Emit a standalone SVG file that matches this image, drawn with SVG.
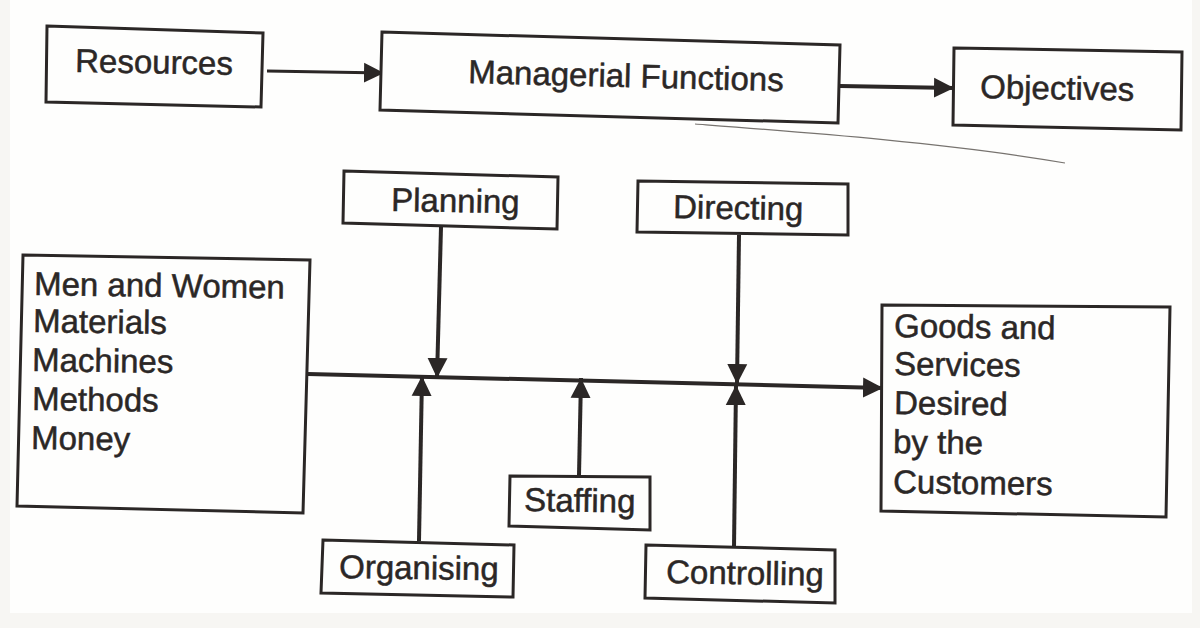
<svg xmlns="http://www.w3.org/2000/svg" width="1200" height="628" viewBox="0 0 1200 628">
<style>
.box{fill:#fefefd;stroke:#2b2726;stroke-width:3}
.lbl{font-family:"Liberation Sans",Arial,sans-serif;font-size:33px;fill:#2b2726;stroke:#2b2726;stroke-width:.5}
.con{fill:none;stroke:#2b2726;stroke-width:4}
.thin{stroke-width:3}
</style>
<defs>
<marker id="ah" markerUnits="userSpaceOnUse" markerWidth="22" markerHeight="22" refX="20" refY="11" orient="auto"><path d="M0 1L20 11L0 21Z" fill="#2b2726"/></marker>
</defs>
<rect width="1200" height="628" fill="#f7f6f3"/>
<rect x="10" y="0" width="1182" height="613" fill="#fefefd"/>
<path d="M695 124C800 132 950 143 1065 163" fill="none" stroke="#77736f" stroke-width="1.2"/>
<g id="connectors">
<path class="con thin" d="M267 71L384 73" marker-end="url(#ah)"/>
<path class="con" d="M840 86L954 88" marker-end="url(#ah)"/>
<path class="con" d="M308 374L883 388" marker-end="url(#ah)"/>
<path class="con" d="M441 227L437 378" marker-end="url(#ah)"/>
<path class="con" d="M739 235L737 384" marker-end="url(#ah)"/>
<path class="con" d="M419 541L422 376" marker-end="url(#ah)"/>
<path class="con" d="M579 475L581 378" marker-end="url(#ah)"/>
<path class="con" d="M734 547L736 385" marker-end="url(#ah)"/>
</g>
<g id="resources"><path class="box" d="M47 26L263 33L261 107L46 102Z"/><text class="lbl" transform="translate(75 72) rotate(1)">Resources</text></g>
<g id="managerial-functions"><path class="box" d="M382 32L840 45L838 123L380 110Z"/><text class="lbl" transform="translate(468 83) rotate(1.5)">Managerial Functions</text></g>
<g id="objectives"><path class="box" d="M954 48L1182 52L1181 130L953 125Z"/><text class="lbl" transform="translate(980 98) rotate(1)">Objectives</text></g>
<g id="planning"><path class="box" d="M344 171L558 177L557 229L343 223Z"/><text class="lbl" transform="translate(391 211) rotate(1)">Planning</text></g>
<g id="directing"><path class="box" d="M638 181L848 184L848 235L637 232Z"/><text class="lbl" transform="translate(673 218) rotate(1)">Directing</text></g>
<g id="inputs"><path class="box" d="M23 255L310 260L303 513L17 506Z"/>
<text class="lbl" transform="translate(34 295) rotate(.8)">Men and Women</text>
<text class="lbl" transform="translate(33 332) rotate(.8)">Materials</text>
<text class="lbl" transform="translate(32 371) rotate(.8)">Machines</text>
<text class="lbl" transform="translate(32 410) rotate(.8)">Methods</text>
<text class="lbl" transform="translate(31 449) rotate(.8)">Money</text></g>
<g id="goods-and-services"><path class="box" d="M882 305L1170 307L1166 517L881 511Z"/>
<text class="lbl" transform="translate(894 337) rotate(.8)">Goods and</text>
<text class="lbl" transform="translate(894 375) rotate(.8)">Services</text>
<text class="lbl" transform="translate(894 414) rotate(.8)">Desired</text>
<text class="lbl" transform="translate(893 453) rotate(.8)">by the</text>
<text class="lbl" transform="translate(893 493) rotate(.8)">Customers</text></g>
<g id="organising"><path class="box" d="M323 540L514 545L513 597L321 593Z"/><text class="lbl" transform="translate(339 578) rotate(.8)">Organising</text></g>
<g id="staffing"><path class="box" d="M510 476L650 477L650 530L509 526Z"/><text class="lbl" transform="translate(524 511) rotate(.8)">Staffing</text></g>
<g id="controlling"><path class="box" d="M646 545L835 550L835 603L645 598Z"/><text class="lbl" transform="translate(666 583) rotate(1)">Controlling</text></g>
</svg>
